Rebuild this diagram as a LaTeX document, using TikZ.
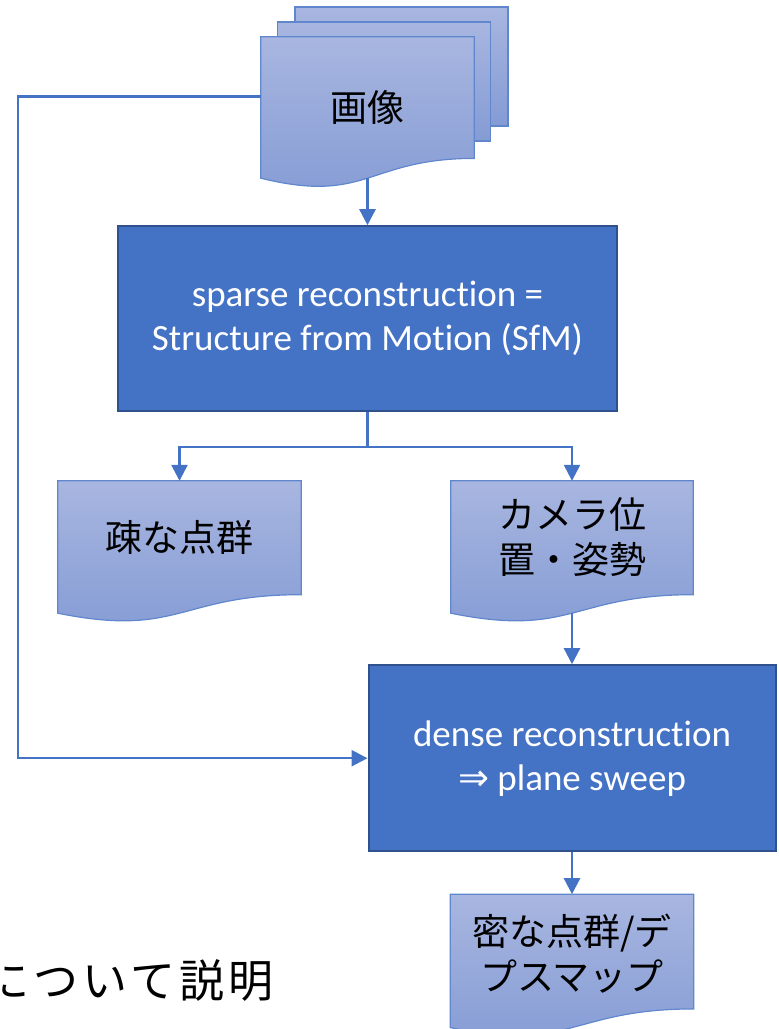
\documentclass[tikz,border=0pt]{standalone}
\usepackage{fontspec}
\setmainfont{Carlito}[Ligatures=NoCommon]
\newfontfamily\jpfont{Noto Sans CJK JP}
\newfontfamily\jpwidefont{Noto Sans CJK JP}[LetterSpace=9]
\newfontfamily\symfont{DejaVu Sans}
\usetikzlibrary{arrows.meta, positioning, calc, backgrounds}
\definecolor{procblue}{RGB}{68,114,196}
\definecolor{procedge}{RGB}{47,82,143}
\definecolor{doctop}{RGB}{168,182,224}
\definecolor{docbottom}{RGB}{132,155,212}
\colorlet{docedge}{procblue!85!white}

% wavy bottom of a flowchart document
\newcommand{\drawdoc}[1]{%
  \path[docfill] (#1.north west) -- (#1.north east)
    -- ($(#1.north east)!0.86!(#1.south east)$)
    .. controls ($(#1.north)!0.86!(#1.south)$) and ($(#1.north)!1.186!(#1.south)$)
    .. (#1.south west) -- cycle;}

\begin{document}
\begin{tikzpicture}[x=1pt, y=-1pt,
    process/.style={
        rectangle, inner sep=0pt,
        draw=procedge, fill=procblue, line width=2pt,
        text=white, align=center,
        font=\fontsize{37}{44}\selectfont
    },
    docnode/.style={
        rectangle, inner sep=0pt, draw=none,
        minimum width=243pt, minimum height=132pt
    },
    doctext/.style={
        align=center, font=\jpfont\fontsize{37}{45}\selectfont
    },
    docfill/.style={
        draw=docedge, line width=1.2pt,
        top color=doctop, bottom color=docbottom
    },
    sheet/.style={
        rectangle, inner sep=0pt, docfill,
        minimum width=213pt, minimum height=119pt
    },
    arrow/.style={
        draw=procblue, line width=2.5pt,
        -{Triangle[length=16pt, width=16pt]}
    },
    note/.style={
        inner sep=0pt, font=\jpwidefont\fontsize{45}{50}\selectfont
    }
]
\useasboundingbox (0,0) rectangle (779,1029);

% ===== Nodes =====
\node[docnode, minimum width=213pt, minimum height=141pt, doctext] (imgdoc) at (367.5,107.5) {画像};

\node[process, below=47pt of imgdoc, minimum width=499pt, minimum height=185pt] (sfm)
    {sparse reconstruction =\\Structure from Motion (SfM)};

\node[docnode] (sparsedoc) at (179.5,547) {};
\node[doctext] (sparsetxt) at ([yshift=10pt]sparsedoc.center) {疎な点群};

\node[docnode, minimum width=242pt] (posedoc) at (572,547) {};
\node[doctext] (posetxt) at ([yshift=10pt]posedoc.center) {カメラ位\\置・姿勢};

\node[process, below=51pt of posedoc, minimum width=407pt, minimum height=186pt] (dense)
    {dense reconstruction\\ {\symfont ⇒} plane sweep};

\node[docnode, below=42pt of dense, minimum height=133pt] (densedoc) {};
\node[doctext] (densetxt) at ([yshift=7pt]densedoc.center) {密な点群/デ\\プスマップ};

\node[note, anchor=east] (notetxt) at (274,980) {について説明};

% ===== Arrows =====
\draw[arrow] (imgdoc.south) -- (imgdoc.south |- sfm.north);
\draw[arrow] (sfm.south) -- ++(0,35) -| (sparsedoc.north);
\draw[arrow] (sfm.south) -- ++(0,35) -| (posedoc.north);
\draw[arrow] (posedoc.south) -- (dense.north);
\draw[arrow] (dense.south) -- (densedoc.north);
\draw[arrow] ([yshift=11pt]imgdoc.west) -- ++(-243,0) |- (dense.west);

% ===== Document shapes =====
\begin{scope}[on background layer]
    \node[sheet] (imgsheetC) at (401.5,66.5) {};
    \node[sheet] (imgsheetB) at (384,81.5) {};
    \drawdoc{imgdoc}
    \drawdoc{sparsedoc}
    \drawdoc{posedoc}
    \drawdoc{densedoc}
\end{scope}

\end{tikzpicture}
\end{document}
